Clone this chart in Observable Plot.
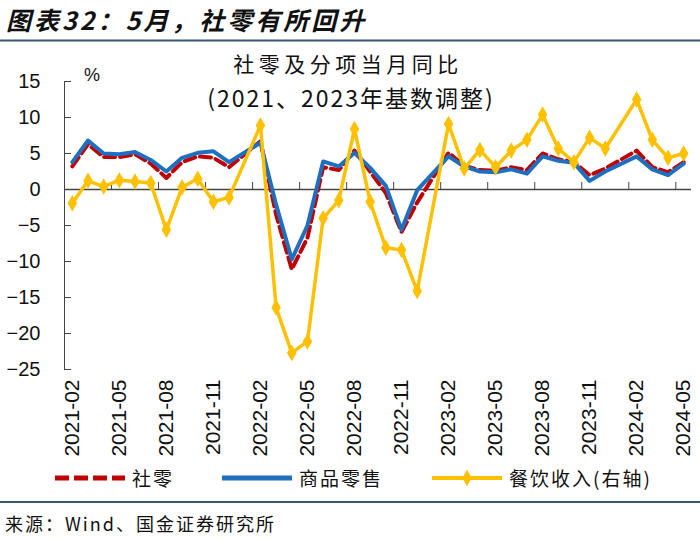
<!DOCTYPE html>
<html>
<head>
<meta charset="utf-8">
<script src="https://cdn.jsdelivr.net/npm/d3@7"></script>
<script src="https://cdn.jsdelivr.net/npm/@observablehq/plot@0.6"></script>
<style>
  html, body { margin: 0; padding: 0; background: #fff; }
  body { width: 700px; height: 540px; position: relative; overflow: hidden; }
  #chart { position: absolute; left: 0; top: 0; }
  #overlay { position: absolute; left: 0; top: 0; pointer-events: none; }
  #overlay text { font-family: "Noto Sans CJK SC", "Noto Sans", sans-serif; fill: #111; }
</style>
</head>
<body>
<div id="chart"></div>
<svg id="overlay" width="700" height="540"></svg>
<script>
// ---- data (monthly, % y/y; 2021 & 2023 base-adjusted) ----
const months = [
  "2021-02","2021-03","2021-04","2021-05","2021-06","2021-07","2021-08","2021-09","2021-10","2021-11","2021-12",
  "2022-01","2022-02","2022-03","2022-04","2022-05","2022-06","2022-07","2022-08","2022-09","2022-10","2022-11","2022-12",
  "2023-01","2023-02","2023-03","2023-04","2023-05","2023-06","2023-07","2023-08","2023-09","2023-10","2023-11","2023-12",
  "2024-01","2024-02","2024-03","2024-04","2024-05"
];
// 社零 (total retail sales)
const retail = [
  3.2, 6.3, 4.5, 4.5, 4.9, 3.6, 1.6, 3.8, 4.6, 4.4, 3.1,
  null, 6.7, -3.5, -11.1, -6.7, 3.1, 2.7, 5.4, 2.5, -0.5, -5.9, -1.8,
  null, 5.1, 3.3, 2.7, 2.6, 3.1, 2.7, 5.0, 4.2, 3.8, 2.0, 2.9,
  null, 5.4, 3.1, 2.4, 3.8
];
// 商品零售 (goods retail)
const goods = [
  3.8, 6.8, 5.0, 4.9, 5.2, 4.1, 2.5, 4.4, 5.1, 5.3, 3.8,
  null, 6.5, -2.1, -9.7, -5.0, 3.9, 3.2, 5.1, 3.0, 0.5, -5.6, -0.1,
  null, 4.6, 3.2, 2.5, 2.4, 2.8, 2.2, 4.6, 4.0, 3.7, 1.2, 2.5,
  null, 4.6, 2.8, 2.0, 3.6
];
// 餐饮收入 (catering revenue)
const catering = [
  -1.9, 1.2, 0.4, 1.3, 1.1, 0.9, -5.6, 0.3, 1.5, -1.7, -1.1,
  null, 8.9, -16.4, -22.7, -21.1, -4.0, -1.5, 8.4, -1.7, -8.1, -8.4, -14.1,
  null, 9.1, 2.9, 5.5, 3.1, 5.4, 6.9, 10.4, 5.7, 3.8, 7.2, 5.7,
  null, 12.5, 6.9, 4.4, 5.0
];
const yTicks = [-25, -20, -15, -10, -5, 0, 5, 10, 15];
const seriesNames = ["社零", "商品零售", "餐饮收入(右轴)"];
const colors = ["#C00000", "#1F6FC0", "#FFC000"];

const rows = months.map((m, i) => ({i, m, retail: retail[i], goods: goods[i], catering: catering[i]}));
const valid = key => rows.filter(d => d[key] != null);
const labelIdx = d3.range(0, months.length, 3);
const boundaries = d3.range(3, months.length, 3).map(i => i - 0.5);

const chart = Plot.plot({
  width: 700,
  height: 470,
  marginLeft: 64,
  marginRight: 9,
  marginTop: 81,
  marginBottom: 101,
  x: {domain: [-0.5, months.length - 0.5]},
  y: {domain: [-25, 15]},
  style: {fontFamily: "'Liberation Sans', Arial, sans-serif", fontSize: "20px", color: "#111", background: "transparent"},
  marks: [
    Plot.frame({anchor: "left", stroke: "#444"}),
    Plot.ruleY([0], {stroke: "#444", strokeWidth: 1.3}),
    Plot.ruleX(boundaries, {x: d => d, y1: 0, y2: 0, insetTop: -7, stroke: "#444"}),
    Plot.axisY({ticks: yTicks, tickSize: -7, fill: "none", stroke: "#444", label: null}),
    Plot.axisY({ticks: yTicks, tickSize: 0, tickPadding: 24, label: null}),
    Plot.axisX({ticks: labelIdx, tickFormat: i => months[i], tickRotate: -90, tickSize: 0, tickPadding: 10, label: null, fontSize: 21}),
    Plot.line(valid("retail"), {x: "i", y: "retail", stroke: colors[0], strokeWidth: 4, strokeDasharray: "11,5"}),
    Plot.line(valid("goods"), {x: "i", y: "goods", stroke: colors[1], strokeWidth: 4}),
    Plot.line(valid("catering"), {x: "i", y: "catering", stroke: colors[2], strokeWidth: 3.5}),
    Plot.dot(valid("catering"), {x: "i", y: "catering", symbol: "diamond", fill: colors[2], r: 5})
  ]
});
document.getElementById("chart").appendChild(chart);

// ---- overlay texts (titles, legend, source) ----
const ov = d3.select("#overlay");
ov.append("text").attr("x", 6).attr("y", 30)
  .style("font-size", "25px").style("font-weight", "bold").style("font-style", "italic").style("letter-spacing", "3px")
  .text("图表32：5月，社零有所回升");
ov.append("line").attr("x1", 0).attr("x2", 700).attr("y1", 40.5).attr("y2", 40.5)
  .attr("stroke", "#3b5675").attr("stroke-width", 2);
ov.append("text").attr("x", 348).attr("y", 72).attr("text-anchor", "middle")
  .style("font-size", "21px").style("letter-spacing", "4.5px").text("社零及分项当月同比");
ov.append("text").attr("x", 351).attr("y", 107).attr("text-anchor", "middle")
  .style("font-size", "23px").style("letter-spacing", "2px").text("(2021、2023年基数调整)");
ov.append("text").attr("x", 92).attr("y", 81).attr("text-anchor", "middle")
  .style("font-size", "18px").style("font-family", "'Liberation Sans', Arial, sans-serif").text("%");

// legend
const legY = 478;
const legX = [55, 222, 432];
ov.append("line").attr("x1", legX[0]).attr("x2", legX[0] + 70).attr("y1", legY).attr("y2", legY)
  .attr("stroke", colors[0]).attr("stroke-width", 5).attr("stroke-dasharray", "14,5");
ov.append("line").attr("x1", legX[1]).attr("x2", legX[1] + 70).attr("y1", legY).attr("y2", legY)
  .attr("stroke", colors[1]).attr("stroke-width", 5);
ov.append("line").attr("x1", legX[2]).attr("x2", legX[2] + 70).attr("y1", legY).attr("y2", legY)
  .attr("stroke", colors[2]).attr("stroke-width", 4);
ov.append("path").attr("d", d3.symbol(d3.symbolDiamond, 80)())
  .attr("transform", `translate(${legX[2] + 35},${legY})`).attr("fill", colors[2]);
seriesNames.forEach((n, k) => {
  ov.append("text").attr("x", legX[k] + 77).attr("y", legY + 8)
    .style("font-size", "19px").style("letter-spacing", "2px").text(n);
});
ov.append("line").attr("x1", 0).attr("x2", 700).attr("y1", 502).attr("y2", 502)
  .attr("stroke", "#3b5675").attr("stroke-width", 2);
ov.append("text").attr("x", 5).attr("y", 531)
  .style("font-size", "18px").style("letter-spacing", "2px").text("来源：Wind、国金证券研究所");
</script>
</body>
</html>
